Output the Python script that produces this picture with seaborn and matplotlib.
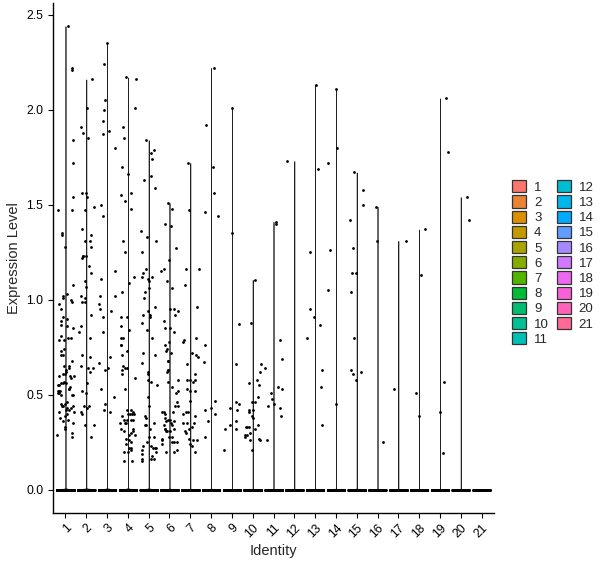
import numpy as np
import pandas as pd
import matplotlib
matplotlib.use("Agg")
import matplotlib.pyplot as plt
from matplotlib.patches import Patch
import seaborn as sns

# ---------------- data ----------------
identities = [str(i) for i in range(1, 22)]

# number of cells with zero expression per identity (estimated)
zero_counts = [420, 400, 380, 370, 360, 340, 320, 300, 280, 260, 240,
               220, 210, 200, 190, 180, 170, 160, 150, 130, 110]

nz_1 = [2.44, 2.22, 2.21, 1.84, 1.72, 1.54, 1.47, 1.47, 1.35, 1.34, 1.28,
        1.08, 1.03, 1.02, 1.01, 0.99, 1.00, 0.98, 0.95, 0.91, 0.89, 0.90, 0.87,
        0.86, 0.85, 0.80, 0.79, 0.81, 0.79, 0.80, 0.74, 0.71, 0.71, 0.73, 0.68,
        0.65, 0.65, 0.64, 0.63, 0.62, 0.61, 0.61, 0.60, 0.60, 0.59, 0.60, 0.56,
        0.56, 0.55, 0.57, 0.55, 0.56, 0.54, 0.53, 0.53, 0.52, 0.52, 0.51, 0.52,
        0.51, 0.50, 0.50, 0.50, 0.45, 0.44, 0.46, 0.44, 0.45, 0.44, 0.43, 0.42,
        0.42, 0.43, 0.41, 0.40, 0.41, 0.38, 0.39, 0.37, 0.36, 0.35, 0.33, 0.32,
        0.30, 0.29, 0.28]
nz_2 = [2.16, 2.01, 1.91, 1.88, 1.85, 1.54, 1.34, 1.31, 1.37, 1.31, 1.28,
        1.56, 1.56, 1.49, 1.47, 1.23, 1.23, 1.23, 1.22, 1.18, 1.14, 1.10, 1.02,
        1.07, 0.99, 1.01, 0.99, 0.92, 0.86, 0.83, 0.80, 0.70, 0.71, 0.65, 0.64,
        0.64, 0.40, 0.56, 0.52, 0.62, 0.51, 0.44, 0.44, 0.43, 0.41, 0.34, 0.34,
        0.28]
nz_3 = [2.05, 2.00, 1.50, 2.35, 2.24, 1.94, 1.89, 1.87, 1.80, 1.44, 1.15,
        1.11, 1.02, 1.02, 0.98, 0.95, 0.94, 0.91, 0.83, 0.70, 0.67, 0.64, 0.63,
        0.53, 0.49, 0.45, 0.42, 0.41]
nz_4 = [2.16, 2.17, 2.01, 1.91, 1.85, 1.66, 1.70, 1.55, 1.56, 1.52, 1.48,
        1.31, 1.25, 1.12, 1.09, 1.04, 0.91, 0.91, 0.86, 0.84, 0.80, 0.80, 0.76,
        0.76, 0.73, 0.71, 0.64, 0.64, 0.65, 0.63, 0.61, 0.59, 0.53, 0.42, 0.40,
        0.41, 0.42, 0.40, 0.40, 0.39, 0.40, 0.37, 0.37, 0.37, 0.37, 0.35, 0.35,
        0.35, 0.32, 0.32, 0.31, 0.31, 0.30, 0.29, 0.29, 0.27, 0.25, 0.24, 0.26,
        0.22, 0.20, 0.21, 0.20, 0.22, 0.15, 0.15]
nz_5 = [1.84, 1.79, 1.77, 1.74, 1.65, 1.63, 1.59, 1.33, 1.31, 1.36, 1.25,
        1.14, 1.12, 1.12, 1.11, 1.10, 1.06, 1.04, 0.96, 0.94, 0.92, 0.91, 0.88,
        0.80, 0.72, 0.71, 0.67, 1.16, 1.01, 0.92, 0.84, 0.61, 0.58, 0.57, 0.39,
        0.34, 0.34, 0.23, 0.23, 0.22, 0.22, 0.20, 0.19, 0.18, 0.15, 0.16, 0.28,
        0.62, 0.55, 0.49, 0.44, 0.38, 0.35, 0.32, 0.28, 0.25, 0.22, 0.21, 0.16,
        0.16]
nz_6 = [1.27, 1.51, 1.48, 1.39, 1.40, 1.21, 1.15, 0.83, 0.78, 0.73, 0.68,
        0.68, 1.16, 1.10, 1.06, 0.95, 0.94, 0.95, 0.92, 0.89, 0.85, 0.85, 0.76,
        0.74, 0.72, 0.63, 0.63, 0.62, 0.58, 0.57, 0.51, 0.52, 0.54, 0.46, 0.44,
        0.44, 0.41, 0.40, 0.41, 0.41, 0.38, 0.37, 0.37, 0.36, 0.36, 0.35, 0.31,
        0.32, 0.32, 0.31, 0.31, 0.32, 0.34, 0.34, 0.27, 0.28, 0.28, 0.25, 0.26,
        0.25, 0.24, 0.25, 0.21, 0.20, 0.20]
nz_7 = [1.72, 1.47, 1.16, 1.16, 1.08, 0.96, 0.79, 0.71, 0.72, 0.70, 0.66,
        0.80, 0.78, 0.61, 0.58, 0.58, 0.58, 0.57, 0.52, 0.53, 0.52, 0.47, 0.41,
        0.41, 0.39, 0.40, 0.35, 0.35, 0.33, 0.32, 0.31, 0.35, 0.27, 0.26, 0.30,
        0.26, 0.23, 0.24, 0.20]
nz_8 = [1.56, 1.46, 1.44, 2.22, 1.92, 1.70, 0.76, 0.675, 0.47, 0.40, 0.43,
        0.42, 0.36, 0.28]
nz_9 = [2.01, 1.35, 0.875, 0.66, 0.46, 0.45, 0.43, 0.42, 0.36, 0.34, 0.32,
        0.32, 0.21]
nz_10 = [1.105, 0.88, 0.62, 0.66, 0.58, 0.56, 0.55, 0.49, 0.46, 0.46, 0.42,
         0.41, 0.42, 0.38, 0.39, 0.34, 0.33, 0.33, 0.33, 0.32, 0.29, 0.30, 0.29,
         0.28, 0.26, 0.26, 0.27, 0.21]
nz_11 = [1.40, 1.41, 0.64, 0.53, 0.51, 0.45, 0.44, 0.39, 0.43, 0.48, 0.54,
         0.69, 0.79, 0.26]
nz_12 = [1.73]
nz_13 = [2.13, 1.69, 1.25, 0.63, 0.87, 0.95, 0.91, 0.80, 0.54, 0.34]
nz_14 = [1.72, 2.11, 1.80, 1.26, 1.05, 0.45]
nz_15 = [1.58, 1.50, 1.42, 1.67, 1.27, 1.14, 1.14, 1.04, 0.62, 0.58, 0.61,
         0.63, 0.80]
nz_16 = [1.49, 1.31, 0.25]
nz_17 = [1.31, 0.53]
nz_18 = [1.37, 1.13, 0.51, 0.39]
nz_19 = [2.06, 1.78, 0.41, 0.57, 0.195]
nz_20 = [1.54, 1.42]
nz_21 = []

nonzero = [nz_1, nz_2, nz_3, nz_4, nz_5, nz_6, nz_7, nz_8, nz_9, nz_10, nz_11,
           nz_12, nz_13, nz_14, nz_15, nz_16, nz_17, nz_18, nz_19, nz_20, nz_21]

rows_id, rows_val = [], []
for ident, nzc, vals in zip(identities, zero_counts, nonzero):
    for v in [0.0] * nzc + list(vals):
        rows_id.append(ident)
        rows_val.append(v)
df = pd.DataFrame({"Identity": pd.Categorical(rows_id, categories=identities),
                   "Expression Level": rows_val})


# ---------------- ggplot-like hue palette ----------------
def hcl_hex(h, c=100.0, l=65.0):
    hr = np.deg2rad(h)
    U, V = c * np.cos(hr), c * np.sin(hr)
    Xn, Yn, Zn = 95.047, 100.0, 108.883
    Y = Yn * ((l + 16) / 116) ** 3 if l > 8 else Yn * l / 903.3
    t = Xn + 15 * Yn + 3 * Zn
    un, vn = 4 * Xn / t, 9 * Yn / t
    u = U / (13 * l) + un
    v = V / (13 * l) + vn
    X = 9 * Y * u / (4 * v)
    Z = Y * (12 - 3 * u - 20 * v) / (4 * v)
    M = np.array([[3.2404542, -1.5371385, -0.4985314],
                  [-0.9692660, 1.8760108, 0.0415560],
                  [0.0556434, -0.2040259, 1.0572252]])
    rgb = M @ (np.array([X, Y, Z]) / 100.0)
    rgb = np.where(rgb > 0.0031308, 1.055 * np.clip(rgb, 0, None) ** (1 / 2.4) - 0.055, 12.92 * rgb)
    rgb = np.clip(rgb, 0, 1)
    return "#%02X%02X%02X" % tuple(int(round(x * 255)) for x in rgb)


n = len(identities)
hues = np.linspace(15, 375, n + 1)[:-1]
palette = [hcl_hex(h) for h in hues]

# ---------------- plot ----------------
sns.set_style("white")
plt.rcParams["font.family"] = ["Liberation Sans", "DejaVu Sans"]

fig = plt.figure(figsize=(6.0, 5.68), dpi=100)
ax = fig.add_axes([53 / 600, 55 / 568, 441 / 600, 510 / 568])

sns.violinplot(data=df, x="Identity", y="Expression Level", hue="Identity",
               order=identities, hue_order=identities, palette=palette,
               saturation=1, width=0.9, cut=0, inner=None, density_norm="width",
               bw_method=0.01, gridsize=1500, linewidth=0.5, linecolor="#222222",
               legend=False, ax=ax)

np.random.seed(7)
sns.stripplot(data=df, x="Identity", y="Expression Level", order=identities,
              color="black", jitter=0.4, size=2.0, linewidth=0, ax=ax)

ax.set_xlim(-0.6, n - 0.4)
ax.set_ylim(-0.122, 2.562)
ax.set_yticks([0.0, 0.5, 1.0, 1.5, 2.0, 2.5])
ax.set_yticklabels(["0.0", "0.5", "1.0", "1.5", "2.0", "2.5"])
ax.set_xticks(range(n))
ax.set_xticklabels(identities, rotation=45, ha="right", rotation_mode="anchor")

for s in ["top", "right"]:
    ax.spines[s].set_visible(False)
for s in ["left", "bottom"]:
    ax.spines[s].set_color("black")
    ax.spines[s].set_linewidth(1.0)
ax.tick_params(axis="both", direction="out", length=3.5, width=0.8,
               color="black", labelsize=8.8, labelcolor="black",
               left=True, bottom=True)
ax.tick_params(axis="x", pad=3)
ax.set_xlabel("Identity", fontsize=10.5, labelpad=3)
ax.set_ylabel("Expression Level", fontsize=10.5, labelpad=4)
ax.grid(False)

handles = [Patch(facecolor=c, edgecolor="#333333", linewidth=0.9, label=l)
           for c, l in zip(palette, identities)]
fig.legend(handles=handles, loc="center left", bbox_to_anchor=(503 / 600, 0.537),
           ncol=2, frameon=False, fontsize=9.5, handlelength=1.05,
           handleheight=1.05, labelspacing=0.12, handletextpad=0.6,
           columnspacing=0.6, borderpad=0.2)

fig.savefig("out.png", dpi=100)
